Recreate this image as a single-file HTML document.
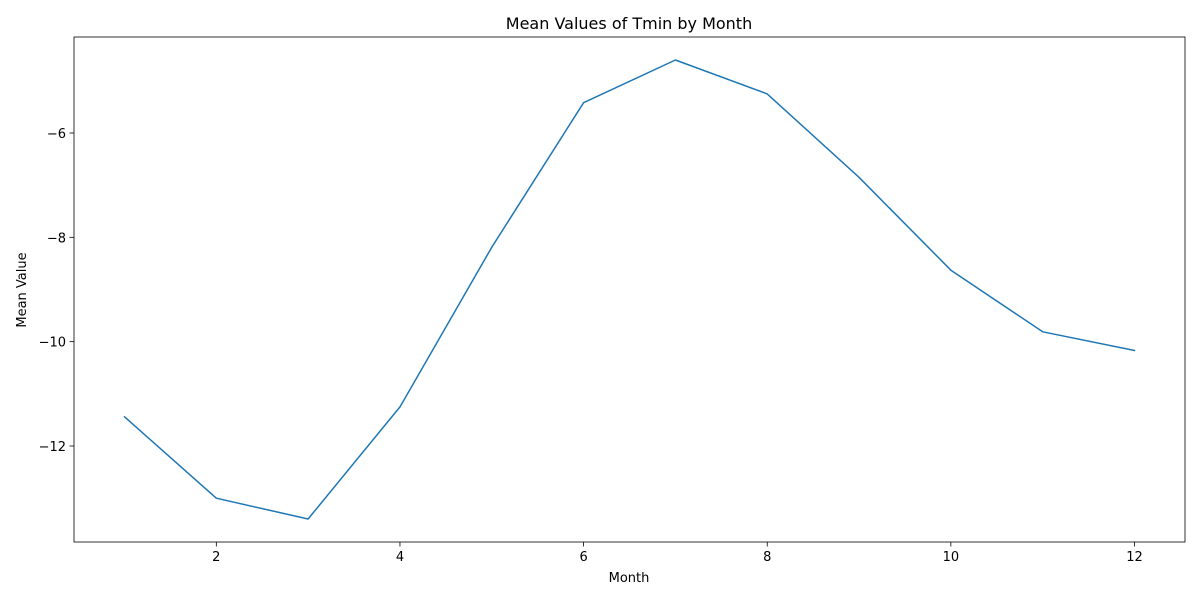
<!DOCTYPE html>
<html><head><meta charset="utf-8"><style>
html,body{margin:0;padding:0;background:#fff;}
svg{display:block;font-family:"DejaVu Sans","Liberation Sans",sans-serif;}
</style></head><body>
<svg id="chart" width="1200" height="600" xmlns="http://www.w3.org/2000/svg"></svg>
<script>
const months = [1,2,3,4,5,6,7,8,9,10,11,12];
const meanValues = [-11.44,-13.0,-13.40,-11.25,-8.19,-5.42,-4.60,-5.25,-6.85,-8.63,-9.81,-10.17];
const xTicks = [2,4,6,8,10,12];
const yTicks = [-12,-10,-8,-6];

const L=74,R=1185,T=37,B=542;
const xMin=0.45,xMax=12.55,yMin=-13.84,yMax=-4.16;
const sx=v=>L+(v-xMin)/(xMax-xMin)*(R-L);
const sy=v=>B-(v-yMin)/(yMax-yMin)*(B-T);
const svg=document.getElementById('chart');
const NS='http://www.w3.org/2000/svg';
function mk(tag,attrs,text){const e=document.createElementNS(NS,tag);for(const k in attrs)e.setAttribute(k,attrs[k]);if(text!==undefined)e.textContent=text;svg.appendChild(e);return e;}

let e=mk('text',{x:629,y:29,'text-anchor':'middle','font-size':16,fill:'#000'},'Mean Values of Tmin by Month');



xTicks.forEach(t=>{
  const x=sx(t);
  let l=mk('line',{x1:x,x2:x,y1:B,y2:B+4.5,stroke:'#000','stroke-width':0.8});
  
  
  let tx=mk('text',{x:x,y:B+19,'text-anchor':'middle','font-size':13,fill:'#000'},String(t));
  
  
});
yTicks.forEach(t=>{
  const y=sy(t);
  let l=mk('line',{x1:L-4.5,x2:L,y1:y,y2:y,stroke:'#000','stroke-width':0.8});
  
  
  let tx=mk('text',{x:L-8,y:y+5,'text-anchor':'end','font-size':13,fill:'#000'},'\u2212'+Math.abs(t));
  
  
});

const pts=months.map((m,i)=>sx(m).toFixed(1)+','+sy(meanValues[i]).toFixed(1)).join(' ');
let pl=mk('polyline',{points:pts,fill:'none',stroke:'#1f77b4','stroke-width':1.5,'stroke-linejoin':'round','stroke-linecap':'square'});



let fr=mk('rect',{x:L,y:T,width:R-L,height:B-T,fill:'none',stroke:'#000','stroke-width':0.8});



let xl=mk('text',{x:629,y:582,'text-anchor':'middle','font-size':13,fill:'#000'},'Month');


let yl=mk('text',{x:26,y:290,'text-anchor':'middle','font-size':13,fill:'#000',transform:'rotate(-90 26 290)'},'Mean Value');


</script>
</body></html>
